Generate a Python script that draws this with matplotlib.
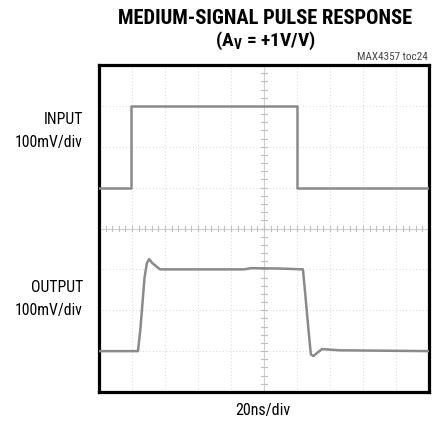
import numpy as np
import matplotlib
matplotlib.use("Agg")
import matplotlib.pyplot as plt

# scope traces, x in divisions (20ns/div), y in divisions (100mV/div)
input_t = [0, 0.97, 0.97, 6.0, 6.0, 10]
input_v = [5.0, 5.0, 7.0, 7.0, 5.0, 5.0]

output_t = [0, 1.18, 1.25, 1.38, 1.45, 1.52, 1.62, 1.85, 4.4, 4.6, 5.5, 6.18,
            6.25, 6.35, 6.42, 6.5, 6.6, 6.76, 7.3, 10]
output_v = [1.0, 1.0, 1.5, 2.8, 3.15, 3.25, 3.15, 3.0, 3.0, 3.03, 3.02, 3.0,
            2.4, 1.5, 0.92, 0.88, 0.95, 1.05, 1.02, 1.0]

title = "MEDIUM-SIGNAL PULSE RESPONSE"
gain_label = r"(A$_\mathregular{V}$ = +1V/V)"
chart_id = "MAX4357 toc24"
trace_labels = [("INPUT", "100mV/div"), ("OUTPUT", "100mV/div")]
x_label = "20ns/div"

plt.rcParams['font.family'] = ['Roboto Condensed', 'DejaVu Sans']

fig = plt.figure(figsize=(4.33, 4.25), dpi=100)
ax = fig.add_axes([99 / 433, 1 - 392 / 425, 330 / 433, 327 / 425])
ax.set_xlim(0, 10)
ax.set_ylim(0, 8)

#dotted scope graticule
for gx in range(1, 10):
    ax.axvline(gx, color="#dedede", lw=0.8, ls=(0, (1, 2)), zorder=1)
for gy in range(1, 8):
    ax.axhline(gy, color="#dedede", lw=0.8, ls=(0, (1, 2)), zorder=1)

#center cross with small ticks
ax.axvline(5, color="#d0d0d0", lw=0.8, zorder=1)
ax.axhline(4, color="#d0d0d0", lw=0.8, zorder=1)
minor_x = np.arange(0, 10.01, 0.2)
minor_y = np.arange(0, 8.01, 0.2)
ax.plot(np.repeat(minor_x, 2).reshape(-1, 2).T, np.tile([3.95, 4.05], (len(minor_x), 1)).T,
        color="#c0c0c0", lw=0.8, zorder=1)
ax.plot(np.tile([4.92, 5.08], (len(minor_y), 1)).T, np.repeat(minor_y, 2).reshape(-1, 2).T,
        color="#c0c0c0", lw=0.8, zorder=1)

ax.plot(input_t, input_v, color="#8a8a8a", lw=1.8, zorder=3)
ax.plot(output_t, output_v, color="#8a8a8a", lw=1.8, zorder=3)

ax.set_xticks([])
ax.set_yticks([])
for sp in ax.spines.values():
    sp.set_linewidth(2.3)
    sp.set_color("black")

fig.text(265 / 433, 1 - 18 / 425, title, ha="center", va="center",
         fontsize=14.8, fontweight="bold")
fig.text(265 / 433, 1 - 41 / 425, gain_label, ha="center", va="center",
         fontsize=14, fontweight="bold")
fig.text(428 / 433, 1 - 57 / 425, chart_id, ha="right", va="center",
         fontsize=8, color="#444444")

for (name, scale), ytop in zip(trace_labels, [120, 288]):
    fig.text(83 / 433, 1 - ytop / 425, name, ha="right", va="center", fontsize=11.3)
    fig.text(83 / 433, 1 - (ytop + 23) / 425, scale, ha="right", va="center", fontsize=11.3)

fig.text(263 / 433, 1 - 410 / 425, x_label, ha="center", va="center", fontsize=11.5)

fig.savefig("out.png", dpi=100)
